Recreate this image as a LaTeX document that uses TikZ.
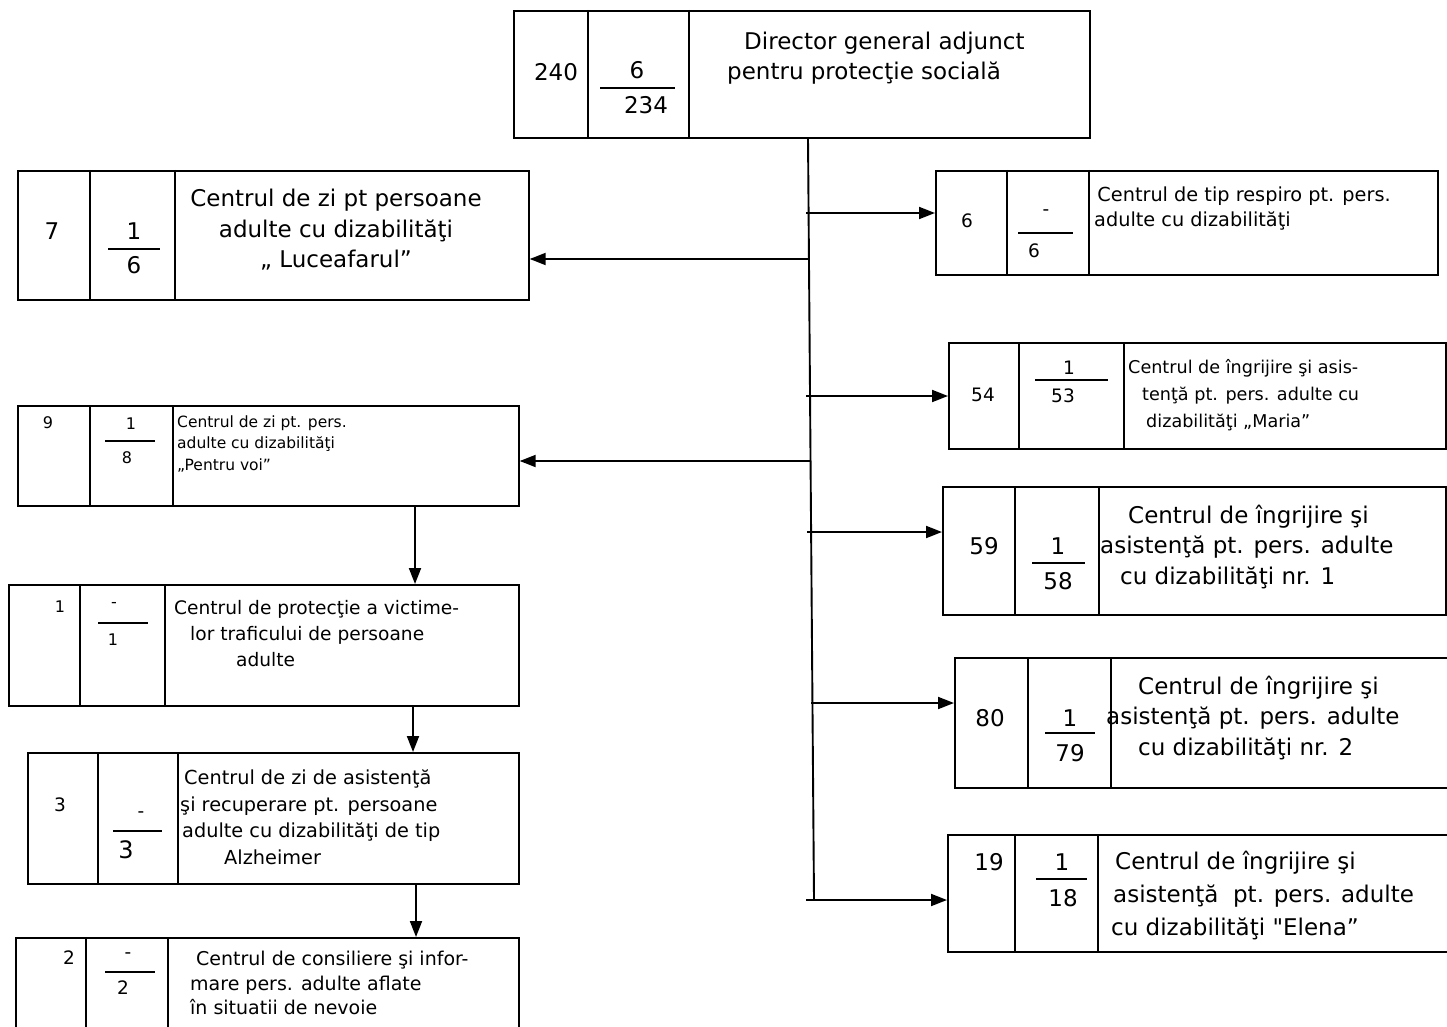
\documentclass[tikz,border=0pt]{standalone}
\usepackage{fontspec}
\setmainfont{DejaVu Sans}[Ligatures=TeXOff]
\usetikzlibrary{arrows.meta,positioning}

\begin{document}
\begin{tikzpicture}[x=1pt,y=-1pt,
    cell/.style={draw, line width=1.7pt, inner sep=0pt, anchor=north west},
    bar/.style={line width=1.6pt},
    conn/.style={line width=1.9pt},
    arr/.style={conn, -{Triangle[length=16pt,width=12pt]}},
    num/.style={inner sep=0pt},
    txt/.style={inner sep=0pt, align=left, anchor=west},
    tbig/.style={font=\fontsize{23}{30.5}\selectfont},
    tmid/.style={font=\fontsize{18.5}{25}\selectfont},
    tsmall/.style={font=\fontsize{16}{21}\selectfont}]
    \useasboundingbox (0,0) rectangle (1447,1027);

    % Director
    \node[cell, minimum width=576pt, minimum height=127pt] (dir) at (513,10) {};
    \draw[bar] (588,10) -- (588,137) (689,10) -- (689,137);
    \node[num, tbig] (dirtot) at (556,72) {240};
    \node[num, tbig] (dirup) at (637,70) {6};
    \draw[bar] (600,88) -- (675,88);
    \node[num, tbig] (dirdn) at (646,105) {234};
    \node[txt, tbig] (dirtxt) at (727,58) {\hspace*{17pt}Director general adjunct\\pentru protecţie socială};

    % Luceafarul
    \node[cell, minimum width=511pt, minimum height=129pt] (luce) at (17,170) {};
    \draw[bar] (90,170) -- (90,299) (175,170) -- (175,299);
    \node[num, tbig] (lucetot) at (52,231) {7};
    \node[num, tbig] (luceup) at (134,231) {1};
    \draw[bar] (108,249) -- (160,249);
    \node[num, tbig] (lucedn) at (134,265) {6};
    \node[inner sep=0pt, align=center, tbig] (lucetxt) at (336,230) {Centrul de zi pt persoane\\adulte cu dizabilităţi\\„ Luceafarul”};

    % Respiro
    \node[cell, minimum width=502pt, minimum height=104pt] (resp) at (935,170) {};
    \draw[bar] (1007,170) -- (1007,274) (1089,170) -- (1089,274);
    \node[num, tmid] (resptot) at (967,221) {6};
    \node[num, tmid] (respup) at (1046,213) {-};
    \draw[bar] (1018,233) -- (1073,233);
    \node[num, tmid] (respdn) at (1034,251) {6};
    \node[txt, font=\fontsize{19.3}{25}\selectfont] (resptxt) at (1094,209) {\,Centrul de tip respiro pt. pers.\\adulte cu dizabilităţi};

    % Maria
    \node[cell, minimum width=497pt, minimum height=106pt] (maria) at (948,342) {};
    \draw[bar] (1019,342) -- (1019,448) (1124,342) -- (1124,448);
    \node[num, tmid] (mariatot) at (983,395) {54};
    \node[num, tmid] (mariaup) at (1069,368) {1};
    \draw[bar] (1035,380) -- (1108,380);
    \node[num, tmid] (mariadn) at (1063,396) {53};
    \node[txt, font=\fontsize{17.6}{27}\selectfont] (mariatxt) at (1128,395) {Centrul de îngrijire şi asis-\\\hspace*{14pt}tenţă pt. pers. adulte cu\\\hspace*{18pt}dizabilităţi „Maria”};

    % Pentru voi
    \node[cell, minimum width=501pt, minimum height=100pt] (voi) at (17,405) {};
    \draw[bar] (90,405) -- (90,505) (173,405) -- (173,505);
    \node[num, tsmall] (voitot) at (48,423) {9};
    \node[num, tsmall] (voiup) at (131,424) {1};
    \draw[bar] (105,441) -- (155,441);
    \node[num, tsmall] (voidn) at (127,458) {8};
    \node[txt, font=\fontsize{15.5}{21.5}\selectfont] (voitxt) at (177,444) {Centrul de zi pt. pers.\\adulte cu dizabilităţi\\„Pentru voi”};

    % Nr. 1
    \node[cell, minimum width=503pt, minimum height=128pt] (nra) at (942,486) {};
    \draw[bar] (1015,486) -- (1015,614) (1099,486) -- (1099,614);
    \node[num, tbig] (nratot) at (984,546) {59};
    \node[num, tbig] (nraup) at (1058,546) {1};
    \draw[bar] (1032,563) -- (1085,563);
    \node[num, tbig] (nradn) at (1058,581) {58};
    \node[txt, tbig] (nratxt) at (1100,547) {\hspace*{28pt}Centrul de îngrijire şi\\asistenţă pt. pers. adulte\\\hspace*{20pt}cu dizabilităţi nr. 1};

    % Protectie
    \node[cell, minimum width=510pt, minimum height=121pt] (prot) at (8,584) {};
    \draw[bar] (80,584) -- (80,705) (165,584) -- (165,705);
    \node[num, tsmall] (prottot) at (60,607) {1};
    \node[num, tsmall] (protup) at (114,605) {-};
    \draw[bar] (98,623) -- (148,623);
    \node[num, tsmall] (protdn) at (113,640) {1};
    \node[txt, font=\fontsize{18.6}{26}\selectfont] (prottxt) at (174,634) {Centrul de protecţie a victime-\\\hspace*{16pt}lor traficului de persoane\\\hspace*{62pt}adulte};

    % Nr. 2
    \node[cell, minimum width=493pt, minimum height=130pt] (nrb) at (954,657) {};
    \draw[bar] (1028,657) -- (1028,787) (1111,657) -- (1111,787);
    \node[num, tbig] (nrbtot) at (990,718) {80};
    \node[num, tbig] (nrbup) at (1070,718) {1};
    \draw[bar] (1045,733) -- (1095,733);
    \node[num, tbig] (nrbdn) at (1070,753) {79};
    \node[txt, tbig] (nrbtxt) at (1106,718) {\hspace*{32pt}Centrul de îngrijire şi\\asistenţă pt. pers. adulte\\\hspace*{32pt}cu dizabilităţi nr. 2};

    % Alzheimer
    \node[cell, minimum width=491pt, minimum height=131pt] (alz) at (27,752) {};
    \draw[bar] (98,752) -- (98,883) (178,752) -- (178,883);
    \node[num, tmid] (alztot) at (60,805) {3};
    \node[num, tmid] (alzup) at (141,815) {-};
    \draw[bar] (113,831) -- (162,831);
    \node[num, font=\fontsize{24}{28}\selectfont] (alzdn) at (126,850) {3};
    \node[txt, font=\fontsize{19.3}{26.5}\selectfont] (alztxt) at (180,817) {\hspace*{4pt}Centrul de zi de asistenţă\\şi recuperare pt. persoane\\\hspace*{2pt}adulte cu dizabilităţi de tip\\\hspace*{44pt}Alzheimer};

    % Elena
    \node[cell, minimum width=500pt, minimum height=117pt] (elena) at (947,834) {};
    \draw[bar] (1015,834) -- (1015,951) (1098,834) -- (1098,951);
    \node[num, tbig] (elenatot) at (989,862) {19};
    \node[num, tbig] (elenaup) at (1062,862) {1};
    \draw[bar] (1036,879) -- (1087,879);
    \node[num, tbig] (elenadn) at (1063,898) {18};
    \node[txt, font=\fontsize{23}{33}\selectfont] (elenatxt) at (1111,896) {\hspace*{4pt}Centrul de îngrijire şi\\\hspace*{2pt}asistenţă~ pt. pers. adulte\\cu dizabilităţi "Elena”};

    % Consiliere
    \node[cell, minimum width=503pt, minimum height=110pt] (cons) at (15,937) {};
    \draw[bar] (86,937) -- (86,1047) (168,937) -- (168,1047);
    \node[num, tmid] (constot) at (69,958) {2};
    \node[num, tmid] (consup) at (128,956) {-};
    \draw[bar] (105,972) -- (155,972);
    \node[num, tmid] (consdn) at (123,988) {2};
    \node[txt, font=\fontsize{19}{24.5}\selectfont] (constxt) at (190,983) {\hspace*{6pt}Centrul de consiliere şi infor-\\mare pers. adulte aflate\\în situatii de nevoie};

    % trunk from the director
    \coordinate (ttop) at (dir.south -| 808,0);
    \coordinate (tbot) at (814,900);
    \draw[conn] (ttop) -- (tbot);

    % branches to the left
    \coordinate (bl1) at (809,259);
    \coordinate (bl2) at (811,461);
    \draw[arr] (bl1) -- (bl1 -| luce.east);
    \draw[arr] (bl2) -- (bl2 -| voi.east);

    % branches to the right
    \coordinate (br1) at (806,213);
    \coordinate (br2) at (806,396);
    \coordinate (br3) at (807,532);
    \coordinate (br4) at (811,703);
    \coordinate (br5) at (806,900);
    \draw[arr] (br1) -- (br1 -| resp.west);
    \draw[arr] (br2) -- (br2 -| maria.west);
    \draw[arr] (br3) -- (br3 -| nra.west);
    \draw[arr] (br4) -- (br4 -| nrb.west);
    \draw[arr] (br5) -- (br5 -| elena.west);

    % chain on the left
    \coordinate (dl1) at (415,0);
    \coordinate (dl2) at (413,0);
    \coordinate (dl3) at (416,0);
    \draw[arr] (voi.south -| dl1) -- (prot.north -| dl1);
    \draw[arr] (prot.south -| dl2) -- (alz.north -| dl2);
    \draw[arr] (alz.south -| dl3) -- (cons.north -| dl3);
\end{tikzpicture}
\end{document}
